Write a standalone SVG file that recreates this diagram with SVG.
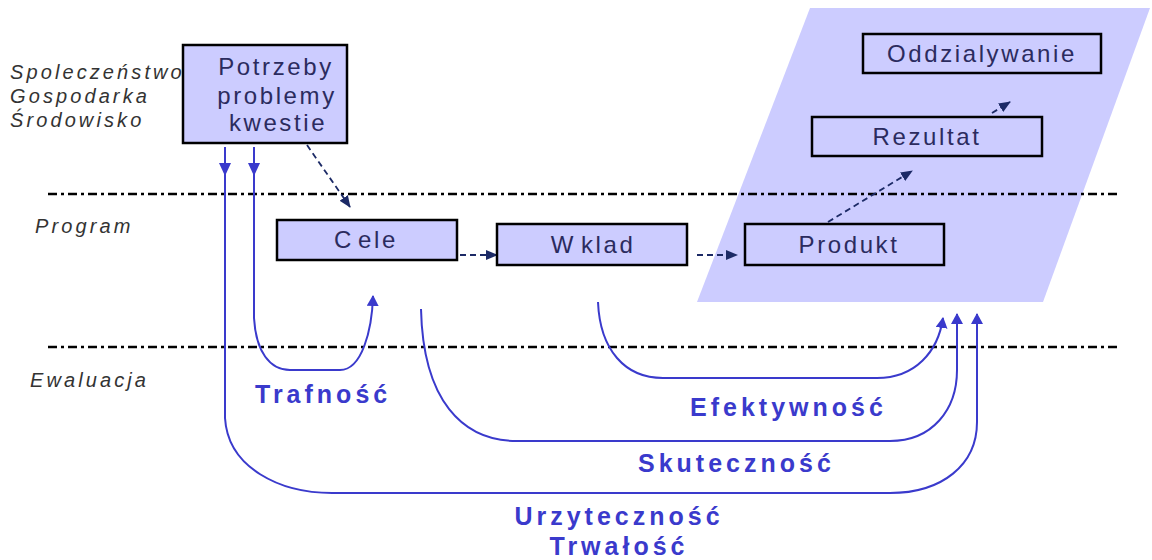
<svg xmlns="http://www.w3.org/2000/svg" width="1152" height="560" viewBox="0 0 1152 560">
<style>
.box{fill:#CCCCFF;stroke:#000;stroke-width:2.5}
.bt{font-family:"Liberation Sans",Arial,sans-serif;font-size:24px;letter-spacing:2.6px;fill:#2b2b5e;text-anchor:middle}
.side{font-family:"Liberation Sans",Arial,sans-serif;font-size:20px;font-style:italic;letter-spacing:3.1px;fill:#333}
.ev{font-family:"Liberation Sans",Arial,sans-serif;font-size:25px;font-weight:bold;letter-spacing:4px;fill:#3a3acc}
.dd{fill:none;stroke:#000;stroke-width:2.5;stroke-dasharray:9 4 3 4}
.blue{fill:none;stroke:#3a3acc;stroke-width:2}
.dash{fill:none;stroke:#1c2a66;stroke-width:1.8;stroke-dasharray:6 4}
</style>
<defs>
<marker id="ab" markerWidth="12" markerHeight="12" refX="10" refY="6" orient="auto" markerUnits="userSpaceOnUse">
<path d="M0,0 L11,6 L0,12 Z" fill="#3a3acc"/>
</marker>
<marker id="an" markerWidth="12" markerHeight="10" refX="11" refY="5" orient="auto" markerUnits="userSpaceOnUse">
<path d="M0,0 L12,5 L0,10 Z" fill="#1c2a66"/>
</marker>
</defs>
<rect width="1152" height="560" fill="#fff"/>
<polygon points="810,8 1150,8 1043,302 697,302" fill="#CCCCFF"/>
<g id="labels">
<text class="side" x="10" y="79">Spoleczeństwo</text>
<text class="side" x="10" y="103">Gospodarka</text>
<text class="side" x="10" y="127">Środowisko</text>
<text class="side" x="35" y="233">Program</text>
<text class="side" x="30" y="387">Ewaluacja</text>
</g>
<g id="lines">
<line class="dd" x1="48" y1="194" x2="1120" y2="194"/>
<line class="dd" x1="48" y1="347" x2="1120" y2="347"/>
</g>
<g id="connectors">
<line class="dash" x1="307" y1="145" x2="350" y2="207" marker-end="url(#an)"/>
<line class="dash" x1="460" y1="255" x2="497" y2="255" marker-end="url(#an)"/>
<line class="dash" x1="697" y1="255" x2="737" y2="255" marker-end="url(#an)"/>
<line class="dash" x1="828" y1="222" x2="912" y2="171" marker-end="url(#an)"/>
<line class="dash" x1="992" y1="113" x2="1010" y2="102" marker-end="url(#an)"/>
<path class="blue" d="M254,147 L254,318 C256,352 270,370 290,370 L340,370 C362,370 372,330 373,296" marker-end="url(#ab)"/>
<path class="blue" d="M598,302 C600,350 625,378 663,378 L877,378 C915,378 938,352 943,318" marker-end="url(#ab)"/>
<path class="blue" d="M421,309 C423,400 462,441 517,441 L890,441 C932,441 957,410 957,370 L957,314" marker-end="url(#ab)"/>
<path class="blue" d="M225,147 L225,418 C228,468 280,493 332,493 L890,493 C942,493 977,465 977,422 L977,314" marker-end="url(#ab)"/>
<polygon points="219,163 231,163 225,176" fill="#3a3acc"/>
<polygon points="248,163 260,163 254,176" fill="#3a3acc"/>
</g>
<g id="potrzeby">
<rect class="box" x="183" y="45" width="164" height="98"/>
<text class="bt" x="276" y="75">Potrzeby</text>
<text class="bt" x="277" y="104">problemy</text>
<text class="bt" x="278" y="131">kwestie</text>
</g>
<g id="cele">
<rect class="box" x="277" y="220" width="180" height="40"/>
<text class="bt" x="366" y="248">C<tspan dx="4">ele</tspan></text>
</g>
<g id="wklad">
<rect class="box" x="497" y="224" width="190" height="41"/>
<text class="bt" x="593" y="253">W<tspan dx="5">klad</tspan></text>
</g>
<g id="produkt">
<rect class="box" x="745" y="224" width="199" height="41"/>
<text class="bt" x="849" y="253">Produkt</text>
</g>
<g id="rezultat">
<rect class="box" x="812" y="117" width="230" height="39"/>
<text class="bt" x="927" y="145">Rezultat</text>
</g>
<g id="oddzialywanie">
<rect class="box" x="863" y="34" width="238" height="39"/>
<text class="bt" x="982" y="62">Oddzialywanie</text>
</g>
<g id="evaluation-labels">
<text class="ev" x="255" y="403">Trafność</text>
<text class="ev" x="690" y="416">Efektywność</text>
<text class="ev" x="638" y="472">Skuteczność</text>
<text class="ev" x="619" y="525" text-anchor="middle">Urzyteczność</text>
<text class="ev" x="619" y="555" text-anchor="middle">Trwałość</text>
</g>
</svg>
